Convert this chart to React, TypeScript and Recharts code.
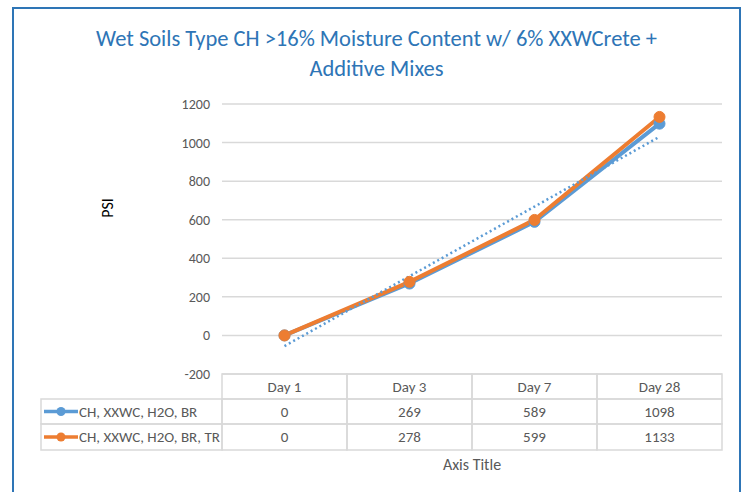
import React from 'react';
import { LineChart, Line, XAxis, YAxis, CartesianGrid, Label } from 'recharts';

// values
const days = ['Day 1', 'Day 3', 'Day 7', 'Day 28'];
const brValues = [0, 269, 589, 1098];
const brTrValues = [0, 278, 599, 1133];
const brTrend = [-55, 307, 668, 1030]; // dotted linear trendline of the BR series
const yTicks = [-200, 0, 200, 400, 600, 800, 1000, 1200];
const seriesNames = ['CH, XXWC, H2O, BR', 'CH, XXWC, H2O, BR, TR'];
const seriesColors = ['#5B9BD5', '#ED7D31'];

const data = days.map((day, i) => ({
  day,
  br: brValues[i],
  brtr: brTrValues[i],
  trend: brTrend[i],
}));

const FONT = "Carlito, Calibri, 'Liberation Sans Narrow', 'Open Sans', sans-serif";
const W = 745;
const H = 492;
const PLOT_LEFT = 222;
const PLOT_RIGHT = 722;
const PLOT_TOP = 104;
const PLOT_BOTTOM = 374;
const BAND = (PLOT_RIGHT - PLOT_LEFT) / days.length;
const Y_AXIS_W = 60;
const X_AXIS_H = 100;
const TABLE_LEFT = 41;
const ROW_H = [25, 25, 26];
const GRID = '#d9d9d9';
const TEXT = '#595959';

// x-axis tick renders one column of the data table (and the legend column for the first tick)
const TableTick = (props: any) => {
  const { x, payload, index } = props;
  const left = x - BAND / 2;
  const rows = [payload.value, String(brValues[index]), String(brTrValues[index])];
  let top = PLOT_BOTTOM;
  const cells: any[] = [];
  rows.forEach((txt, r) => {
    cells.push(
      <g key={r}>
        <rect x={left} y={top} width={BAND} height={ROW_H[r]} fill="none" stroke={GRID} strokeWidth={1.5} />
        <text x={x} y={top + ROW_H[r] / 2} textAnchor="middle" dominantBaseline="central" fill={TEXT} fontSize={15} fontFamily={FONT}>
          {txt}
        </text>
      </g>
    );
    if (index === 0 && r > 0) {
      const s = r - 1;
      const cy = top + ROW_H[r] / 2;
      cells.push(
        <g key={'leg' + r}>
          <rect x={TABLE_LEFT} y={top} width={left - TABLE_LEFT} height={ROW_H[r]} fill="none" stroke={GRID} strokeWidth={1.5} />
          <line x1={TABLE_LEFT + 3} x2={TABLE_LEFT + 37} y1={cy} y2={cy} stroke={seriesColors[s]} strokeWidth={3.5} />
          <circle cx={TABLE_LEFT + 20} cy={cy} r={4.5} fill={seriesColors[s]} />
          <text x={TABLE_LEFT + 38} y={cy} dominantBaseline="central" fill={TEXT} fontSize={15} fontFamily={FONT}>
            {seriesNames[s]}
          </text>
        </g>
      );
    }
    top += ROW_H[r];
  });
  return <g>{cells}</g>;
};

const PsiLabel = (props: any) => {
  const vb = props.viewBox;
  const lx = vb.x - 55;
  const ly = 208;
  return (
    <text x={lx} y={ly} transform={`rotate(-90 ${lx} ${ly})`} textAnchor="middle" dominantBaseline="central" fill="#000" fontSize={16} fontFamily={FONT}>
      PSI
    </text>
  );
};

export default function App() {
  return (
    <div style={{ position: 'absolute', left: 0, top: 0, width: W, height: H, background: '#fff', overflow: 'hidden', fontFamily: FONT }}>
      <div style={{ position: 'absolute', left: 12, top: 7, width: 725, height: 520, border: '2px solid #2E75B6' }} />
      <div style={{ position: 'absolute', left: 14, top: 24, width: 725, textAlign: 'center', color: '#2E75B6', fontSize: 22.5, lineHeight: '30px' }}>
        Wet Soils Type CH &gt;16% Moisture Content w/ 6% XXWCrete +
        <br />
        Additive Mixes
      </div>
      <div style={{ position: 'absolute', left: 0, top: 0 }}>
        <LineChart
          width={W}
          height={H}
          data={data}
          margin={{ top: PLOT_TOP, right: W - PLOT_RIGHT, bottom: H - PLOT_BOTTOM - X_AXIS_H, left: PLOT_LEFT - Y_AXIS_W }}
        >
          <CartesianGrid horizontal vertical={false} stroke={GRID} strokeWidth={1.5} />
          <XAxis
            dataKey="day"
            height={X_AXIS_H}
            axisLine={false}
            tickLine={false}
            interval={0}
            padding={{ left: BAND / 2, right: BAND / 2 }}
            tick={<TableTick />}
          >
            <Label value="Axis Title" position="insideBottom" offset={4} fill={TEXT} fontSize={16} fontFamily={FONT} />
          </XAxis>
          <YAxis
            width={Y_AXIS_W}
            domain={[-200, 1200]}
            ticks={yTicks}
            axisLine={false}
            tickLine={false}
            tickSize={0}
            tickMargin={12}
            tick={{ fill: TEXT, fontSize: 14, fontFamily: FONT }}
          >
            <Label content={<PsiLabel />} />
          </YAxis>
          <Line dataKey="br" stroke={seriesColors[0]} strokeWidth={4} dot={{ r: 5.5, fill: seriesColors[0], stroke: seriesColors[0], strokeWidth: 1 }} isAnimationActive={false} />
          <Line dataKey="brtr" stroke={seriesColors[1]} strokeWidth={4} dot={{ r: 5.5, fill: seriesColors[1], stroke: seriesColors[1], strokeWidth: 1 }} isAnimationActive={false} />
          <Line dataKey="trend" stroke={seriesColors[0]} strokeWidth={2.5} strokeDasharray="2 3" dot={false} isAnimationActive={false} />
        </LineChart>
      </div>
    </div>
  );
}
